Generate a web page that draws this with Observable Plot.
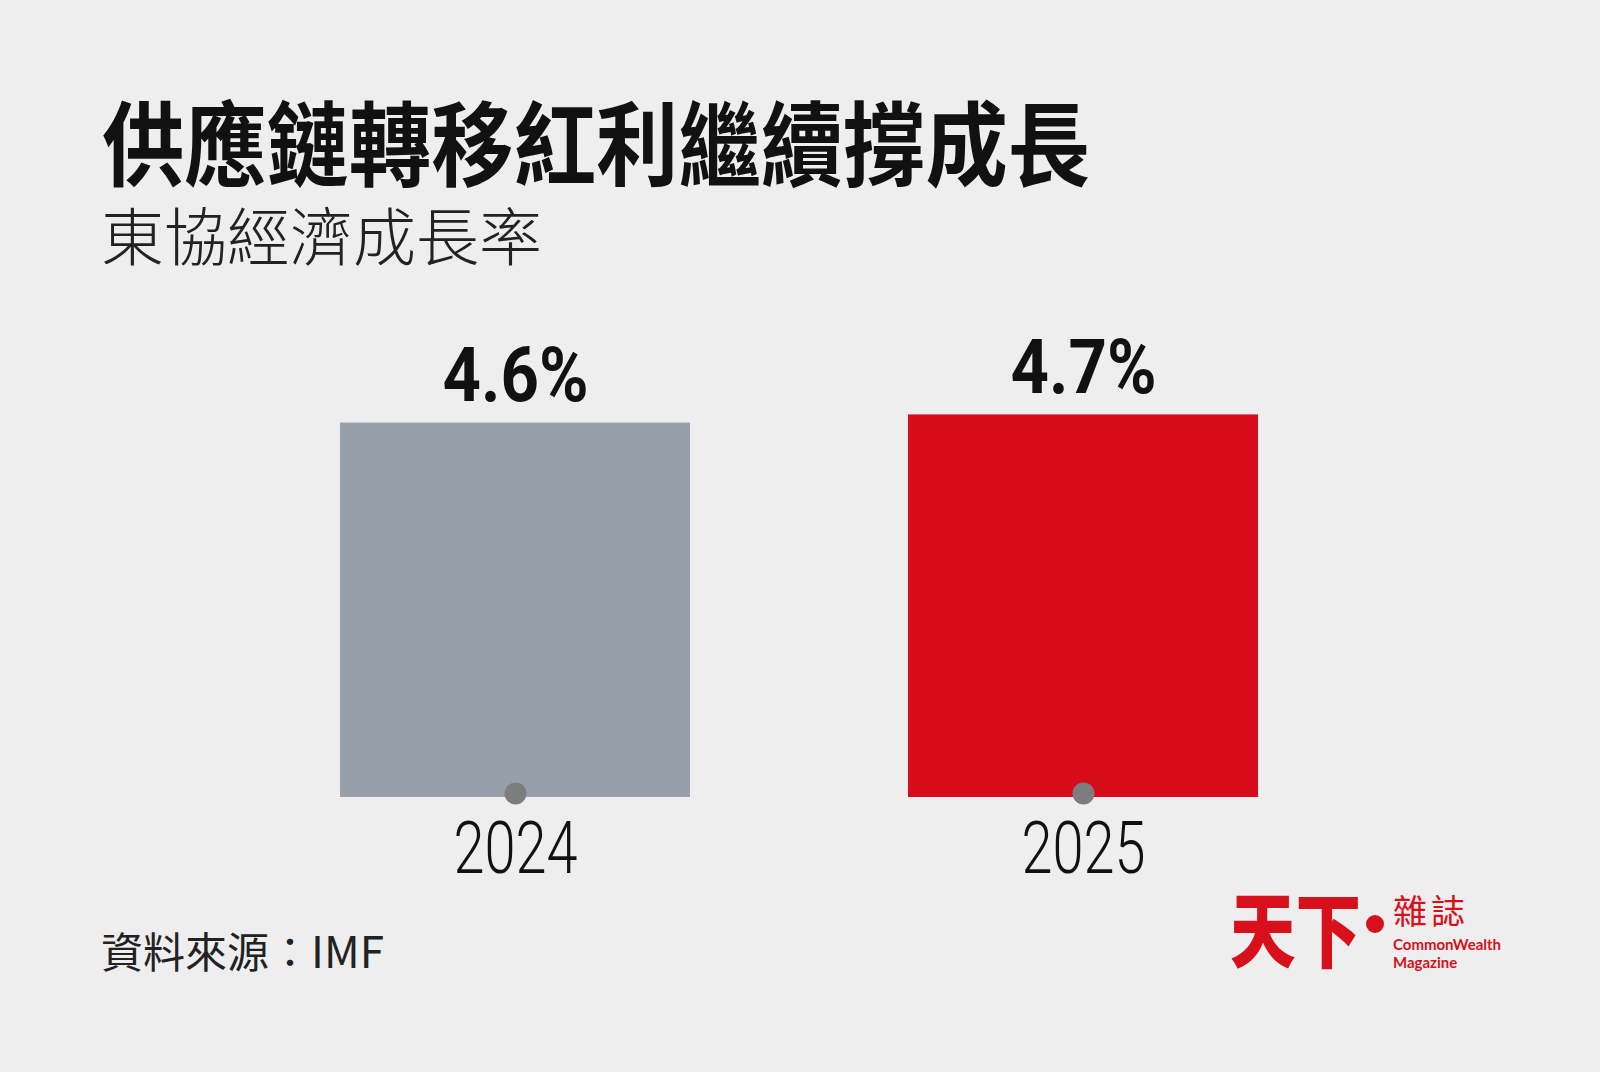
<!DOCTYPE html>
<html>
<head>
<meta charset="utf-8">
<script src="https://cdn.jsdelivr.net/npm/d3@7"></script>
<script src="https://cdn.jsdelivr.net/npm/@observablehq/plot@0.6"></script>
<style>
  html, body { margin: 0; padding: 0; }
  body { width: 1600px; height: 1072px; background: #eeeeee; position: relative; overflow: hidden; font-family: "Noto Sans CJK TC", sans-serif; }
  #title { position: absolute; left: 102px; top: 93px; font-size: 92px; line-height: 1; font-weight: 700; color: #111; white-space: nowrap; transform: scaleX(0.895); transform-origin: left top; margin: 0; }
  #subtitle { position: absolute; left: 101px; top: 201px; font-size: 63px; line-height: 1; font-weight: 300; color: #222; white-space: nowrap; margin: 0; }
  #chart { position: absolute; left: 0; top: 300px; }
  #source { position: absolute; left: 101px; top: 927px; font-size: 42px; line-height: 1; color: #222; white-space: nowrap; }
  #source .en { font-size: 44px; }
  #logo { position: absolute; left: 1230px; top: 885px; color: #d7101c; }
  #logo .big { position: absolute; left: 0; top: 0; font-size: 82px; line-height: 1; font-weight: 900; white-space: nowrap; transform: scaleX(0.8); transform-origin: left top; }
  #logo .dot { position: absolute; left: 136px; top: 30px; width: 18px; height: 18px; border-radius: 50%; background: #d7101c; }
  #logo .zz { position: absolute; left: 163px; top: 8px; font-size: 34px; line-height: 1; white-space: nowrap; letter-spacing: 4px; }
  #logo .en { position: absolute; left: 163px; top: 50px; font-family: Lato, sans-serif; font-size: 15px; line-height: 1.2; font-weight: 700; white-space: nowrap; }
</style>
</head>
<body>
<h1 id="title">供應鏈轉移紅利繼續撐成長</h1>
<div id="subtitle">東協經濟成長率</div>
<div id="chart"></div>
<div id="source">資料來源：<span class="en">IMF</span></div>
<div id="logo">
  <div class="big">天下</div>
  <div class="dot"></div>
  <div class="zz">雜誌</div>
  <div class="en">CommonWealth<br>Magazine</div>
</div>
<script>
const years = ["2024", "2025"];
const growth = [4.6, 4.7];
const valueLabels = ["4.6%", "4.7%"];
const barColors = ["#97a0aa", "#d60c1a"];

const data = years.map((y, i) => ({year: y, value: growth[i], label: valueLabels[i], color: barColors[i]}));

const chart = Plot.plot({
  width: 1600,
  height: 600,
  marginLeft: 122,
  marginRight: 123,
  marginTop: 90,
  marginBottom: 103,
  style: {background: "transparent"},
  x: {type: "band", domain: years, padding: 0.383, axis: null},
  y: {domain: [0, 5], axis: null},
  marks: [
    Plot.barY(data, {x: "year", y: "value", fill: "color"}),
    Plot.dot(data, {x: "year", y: () => 0, r: 11, fill: "#7d7d7d", dy: -4}),
    Plot.text(data, {x: "year", y: "value", text: "label", lineAnchor: "bottom", dy: -22,
      fontSize: 76, fontWeight: 700, fontFamily: "Roboto", fill: "#111"}),
    Plot.text(data, {x: "year", y: () => 0, text: "year", lineAnchor: "top", dy: 24,
      fontSize: 72, fontWeight: 300, fontFamily: "Roboto", fill: "#111"})
  ]
});
// condense the numeric labels to match the narrow typeface of the original
chart.querySelectorAll("text").forEach(t => {
  const s = t.textContent.trim();
  if (valueLabels.includes(s)) {
    t.setAttribute("textLength", 146);
    t.setAttribute("lengthAdjust", "spacingAndGlyphs");
  } else if (years.includes(s)) {
    t.setAttribute("textLength", 124);
    t.setAttribute("lengthAdjust", "spacingAndGlyphs");
  }
});
document.getElementById("chart").appendChild(chart);
</script>
</body>
</html>
